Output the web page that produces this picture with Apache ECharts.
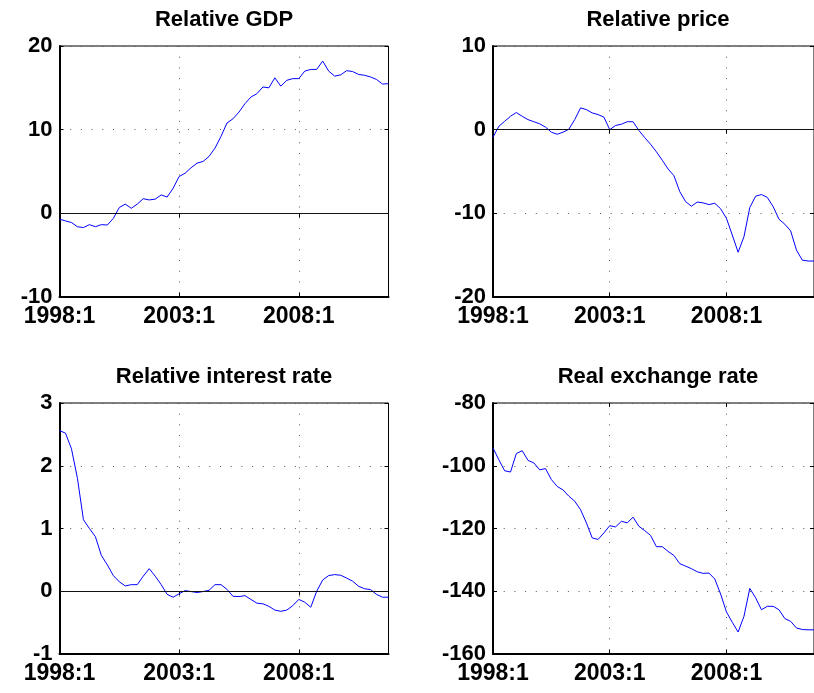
<!DOCTYPE html>
<html>
<head>
<meta charset="utf-8">
<title>Relative GDP, price, interest rate and real exchange rate</title>
<script src="https://cdn.jsdelivr.net/npm/echarts@6/dist/echarts.min.js"></script>
<style>
  html, body { margin: 0; padding: 0; background: #fff; }
  #chart { width: 814px; height: 693px; }
</style>
</head>
<body>
<div id="chart"></div>
<script>
// quarters 1998:1 .. 2011:4
const quarters = []
for (let y = 1998; y <= 2011; y += 1) {
  for (let q = 1; q <= 4; q += 1) quarters.push(`${y}:${q}`)
}

const relativeGdp = [
  -0.7, -0.9, -1.1, -1.6, -1.7, -1.35, -1.6, -1.35, -1.4, -0.6,
  0.7, 1.1, 0.6, 1.1, 1.75, 1.6, 1.7, 2.2, 1.95, 3.0,
  4.4, 4.8, 5.45, 6.0, 6.2, 6.8, 7.8, 9.2, 10.8, 11.3,
  12.1, 13.1, 13.9, 14.3, 15.1, 15.0, 16.2, 15.2, 15.9, 16.1,
  16.1, 17.0, 17.2, 17.2, 18.2, 17.0, 16.4, 16.55, 17.05, 16.95,
  16.6, 16.5, 16.3, 16.0, 15.45, 15.5,
]

const relativePrice = [
  -0.9, 0.4, 1.0, 1.6, 2.05, 1.6, 1.2, 0.95, 0.7, 0.3,
  -0.3, -0.55, -0.3, 0.05, 1.2, 2.6, 2.4, 2.0, 1.8, 1.5,
  0.0, 0.5, 0.65, 0.95, 0.95, -0.1, -0.95, -1.75, -2.65, -3.65,
  -4.7, -5.5, -7.4, -8.6, -9.15, -8.65, -8.75, -8.95, -8.8, -9.45,
  -10.6, -12.6, -14.65, -12.8, -9.3, -7.95, -7.75, -8.1, -9.2, -10.7,
  -11.3, -12.1, -14.4, -15.6, -15.7, -15.7,
]

const relativeRate = [
  2.56, 2.52, 2.27, 1.8, 1.14, 1.0, 0.87, 0.57, 0.42, 0.25,
  0.15, 0.085, 0.105, 0.105, 0.24, 0.36, 0.24, 0.105, -0.05, -0.095,
  -0.04, 0.01, -0.005, -0.02, -0.005, 0.015, 0.105, 0.105, 0.03, -0.08,
  -0.085, -0.07, -0.13, -0.19, -0.2, -0.24, -0.3, -0.32, -0.3, -0.23,
  -0.13, -0.175, -0.255, 0.0, 0.18, 0.25, 0.265, 0.255, 0.21, 0.16,
  0.08, 0.04, 0.027, -0.05, -0.095, -0.095,
]

const realExchangeRate = [
  -94.3, -98.1, -101.6, -102.0, -96.1, -95.2, -98.3, -99.1, -101.3, -100.9,
  -104.4, -106.6, -107.7, -109.7, -111.3, -114.0, -118.2, -123.0, -123.5, -121.4,
  -119.1, -119.5, -117.7, -118.2, -116.4, -119.3, -120.7, -122.2, -125.8, -125.8,
  -127.3, -128.6, -131.2, -132.0, -132.8, -133.8, -134.3, -134.2, -136.1, -140.9,
  -146.6, -149.9, -153.0, -148.0, -139.1, -142.1, -145.9, -144.8, -144.8, -145.9,
  -148.7, -149.6, -151.7, -152.2, -152.3, -152.3,
]

const panels = [
  { title: 'Relative GDP', data: relativeGdp, min: -10, max: 20, step: 10, zeroLine: true },
  { title: 'Relative price', data: relativePrice, min: -20, max: 10, step: 10, zeroLine: true },
  { title: 'Relative interest rate', data: relativeRate, min: -1, max: 3, step: 1, zeroLine: true },
  { title: 'Real exchange rate', data: realExchangeRate, min: -160, max: -80, step: 20, zeroLine: false },
]

const grids = [
  { left: 59.5, top: 46, width: 329, height: 251 },
  { left: 493, top: 46, width: 330, height: 251 },
  { left: 59.5, top: 403, width: 329, height: 251 },
  { left: 493, top: 403, width: 330, height: 251 },
]

const dotted = { color: '#555', width: 1, type: [1, 9.7] }
const frame = { color: '#000', width: 2 }
const tickStyle = { color: '#000', width: 1 }
const labelFont = 'Liberation Sans, Arial, sans-serif'

const chart = echarts.init(document.getElementById('chart'))

// main axes carry labels, grid lines and the thick left/bottom frame;
// mirror axes only add MATLAB-style inner ticks on top and right
const mainX = panels.map((p, i) => ({
  type: 'category',
  gridIndex: i,
  data: quarters,
  boundaryGap: false,
  axisLine: { show: true, onZero: false, lineStyle: frame },
  axisTick: { show: true, inside: true, length: 4, interval: 19, lineStyle: tickStyle },
  axisLabel: {
    interval: 19,
    margin: 8,
    fontFamily: labelFont,
    fontWeight: 'bold',
    fontSize: 23,
    color: '#000',
  },
  splitLine: { show: true, interval: 19, lineStyle: dotted },
}))

const topX = panels.map((p, i) => ({
  type: 'category',
  gridIndex: i,
  position: 'top',
  data: quarters,
  boundaryGap: false,
  axisLine: { show: false },
  axisTick: { show: true, inside: true, length: 4, interval: 19, lineStyle: tickStyle },
  axisLabel: { show: false },
  splitLine: { show: false },
}))

const mainY = panels.map((p, i) => ({
  type: 'value',
  gridIndex: i,
  min: p.min,
  max: p.max,
  interval: p.step,
  axisLine: { show: true, lineStyle: frame },
  axisTick: { show: true, inside: true, length: 4, lineStyle: tickStyle },
  axisLabel: {
    margin: 7,
    fontFamily: labelFont,
    fontWeight: 'bold',
    fontSize: 22,
    color: '#000',
  },
  splitLine: { show: true, lineStyle: dotted },
}))

const rightY = panels.map((p, i) => ({
  type: 'value',
  gridIndex: i,
  position: 'right',
  min: p.min,
  max: p.max,
  interval: p.step,
  axisLine: { show: false },
  axisTick: { show: true, inside: true, length: 4, lineStyle: tickStyle },
  axisLabel: { show: false },
  splitLine: { show: false },
}))

chart.setOption({
  animation: false,
  backgroundColor: '#fff',
  title: panels.map((p, i) => ({
    text: p.title,
    left: grids[i].left + grids[i].width / 2,
    top: grids[i].top - 37,
    textAlign: 'center',
    padding: 0,
    textStyle: { fontFamily: labelFont, fontWeight: 'bold', fontSize: 22, color: '#000' },
  })),
  grid: grids.map((g) => ({ ...g, show: true, borderColor: '#000', borderWidth: 1, backgroundColor: '#fff' })),
  xAxis: [...mainX, ...topX],
  yAxis: [...mainY, ...rightY],
  series: panels.map((p, i) => ({
    type: 'line',
    xAxisIndex: i,
    yAxisIndex: i,
    data: p.data,
    showSymbol: false,
    symbol: 'none',
    lineStyle: { color: '#0000ff', width: 1 },
    markLine: p.zeroLine
      ? {
          silent: true,
          symbol: 'none',
          label: { show: false },
          lineStyle: { color: '#111', width: 1, type: 'solid' },
          data: [{ yAxis: 0 }],
        }
      : undefined,
  })),
})
</script>
</body>
</html>
